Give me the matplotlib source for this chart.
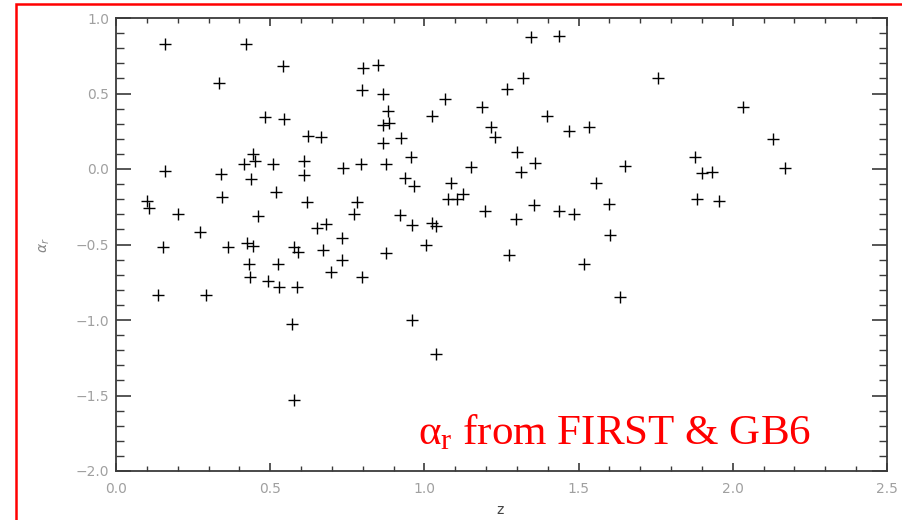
import matplotlib
matplotlib.use('Agg')
import matplotlib.pyplot as plt
from matplotlib.ticker import MultipleLocator
from matplotlib.patches import Rectangle

# redshift and radio spectral index (FIRST & GB6)
z = [0.159, 0.420, 1.347, 1.436, 0.334, 0.541, 0.802, 0.851, 0.797, 0.867,
     1.068, 1.267, 1.319, 1.758, 2.033, 1.188, 0.482, 0.545, 1.024, 0.883,
     0.867, 0.886, 1.217, 1.230, 1.398, 1.470, 1.533, 0.624, 0.665, 0.923,
     0.867, 2.130, 1.877, 0.445, 0.451, 0.415, 0.508, 0.610, 0.957, 1.301,
     1.358, 0.794, 0.875, 1.150, 1.652, 0.159, 0.735, 2.169, 0.340, 0.438,
     0.610, 0.937, 0.965, 1.314, 1.900, 1.932, 1.558, 1.086, 0.518, 1.126,
     1.077, 1.106, 0.102, 0.108, 0.200, 0.620, 0.781, 1.883, 1.599, 1.956,
     1.197, 0.461, 0.772, 0.922, 1.436, 1.485, 1.297, 0.680, 0.651, 0.959,
     1.024, 1.038, 1.355, 0.273, 0.732, 1.601, 0.426, 0.443, 0.364, 0.154,
     0.578, 0.591, 0.670, 1.005, 0.874, 1.275, 0.432, 0.524, 0.732, 1.519,
     0.697, 0.436, 0.494, 0.798, 0.529, 0.586, 0.135, 0.291, 1.633, 0.571,
     0.959, 1.037, 0.577, 0.345]
alpha_r = [0.830, 0.830, 0.875, 0.880, 0.572, 0.680, 0.670, 0.690, 0.520, 0.500,
           0.461, 0.530, 0.600, 0.600, 0.410, 0.410, 0.343, 0.331, 0.350, 0.384,
           0.291, 0.306, 0.280, 0.214, 0.350, 0.252, 0.280, 0.218, 0.210, 0.204,
           0.170, 0.200, 0.081, 0.100, 0.053, 0.031, 0.031, 0.055, 0.080, 0.110,
           0.037, 0.031, 0.031, 0.011, 0.022, -0.011, 0.005, 0.005, -0.035, -0.068,
           -0.040, -0.058, -0.110, -0.020, -0.028, -0.018, -0.090, -0.090, -0.150, -0.166,
           -0.200, -0.200, -0.210, -0.260, -0.298, -0.221, -0.221, -0.201, -0.230, -0.210,
           -0.278, -0.311, -0.300, -0.305, -0.278, -0.300, -0.331, -0.362, -0.389, -0.371,
           -0.360, -0.377, -0.238, -0.420, -0.460, -0.437, -0.492, -0.510, -0.519, -0.519,
           -0.515, -0.548, -0.539, -0.500, -0.559, -0.570, -0.629, -0.629, -0.600, -0.629,
           -0.680, -0.718, -0.740, -0.718, -0.779, -0.779, -0.832, -0.832, -0.849, -1.025,
           -1.000, -1.227, -1.530, -0.183]

xticks = [0.0, 0.5, 1.0, 1.5, 2.0, 2.5]
yticks = [-2.0, -1.5, -1.0, -0.5, 0.0, 0.5, 1.0]

fig = plt.figure(figsize=(9.03, 5.20), dpi=100)
ax = fig.add_axes([116 / 903, 49 / 520, 771 / 903, 453 / 520])

ax.plot(z, alpha_r, linestyle='none', marker='+', color='black',
        markersize=9, markeredgewidth=1.0)

ax.set_xlim(0.0, 2.5)
ax.set_ylim(-2.0, 1.0)
ax.set_xticks(xticks)
ax.set_yticks(yticks)
ax.set_xticklabels(['%.1f' % v for v in xticks])
ax.set_yticklabels([('%.1f' % v).replace('-', '\u2212') for v in yticks])
ax.xaxis.set_minor_locator(MultipleLocator(0.1))
ax.yaxis.set_minor_locator(MultipleLocator(0.1))

axcol = '#3a3a3a'
for s in ax.spines.values():
    s.set_color(axcol)
    s.set_linewidth(1.3)
ax.tick_params(which='both', direction='in', top=True, right=True,
               color=axcol, labelcolor='#a0a0a0', labelsize=10)
ax.tick_params(axis='x', which='major', length=6, width=1.2, pad=8)
ax.tick_params(axis='x', which='minor', length=3.3, width=1.0)
ax.tick_params(axis='y', which='major', length=11, width=1.2, pad=5)
ax.tick_params(axis='y', which='minor', length=5.8, width=1.0)

fig.text(500 / 903, 1 - 510 / 520, 'z', ha='center', va='center',
         color='#444444', fontsize=10)
fig.text(45 / 903, 1 - 245 / 520, r'$\alpha_r$', ha='center', va='center',
         rotation=90, color='#888888', fontsize=10)

plt.rcParams['mathtext.fontset'] = 'custom'
plt.rcParams['mathtext.rm'] = 'Liberation Serif'
ax.text(0.392, 0.060, r'$\mathrm{\alpha_r}$ from FIRST & GB6',
        transform=ax.transAxes, ha='left', va='baseline',
        color='red', fontsize=31, family='Liberation Serif')

# red frame around the slide, cut by the right and bottom edge
fig.patches.append(Rectangle((16 / 903, -0.1), 1.2, 1.1 - 4 / 520,
                             transform=fig.transFigure, fill=False,
                             edgecolor='red', linewidth=1.8))

fig.savefig('out.png', dpi=100)
